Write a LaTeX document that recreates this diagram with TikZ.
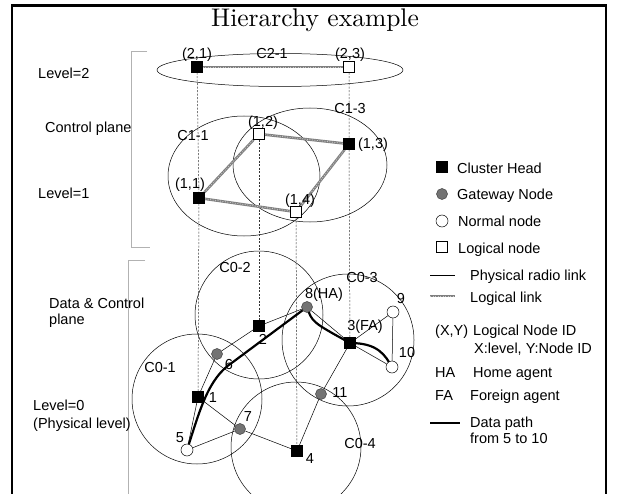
\documentclass[tikz,border=0pt]{standalone}
\usepackage{fontspec}
\setsansfont{Liberation Sans}
\usetikzlibrary{backgrounds}
\begin{document}
\begin{tikzpicture}[x=1pt,y=-1pt,
  lbl/.style={font=\sffamily\fontsize{14.5}{15}\selectfont, inner sep=0pt,
              text height=10.4pt, text depth=0pt},
  lblw/.style={lbl, anchor=west},
  chead/.style={rectangle, draw=black, fill=black, minimum size=11pt, inner sep=0pt},
  lnode/.style={rectangle, draw=black, fill=white, line width=0.5pt, minimum size=11pt, inner sep=0pt},
  gwnode/.style={circle, draw=black!75, line width=0.5pt, fill=black!55, minimum size=11pt, inner sep=0pt},
  nnode/.style={circle, draw=black, fill=white, line width=0.5pt, minimum size=12pt, inner sep=0pt},
  phys/.style={draw=black, line width=0.5pt},
  logic/.style={draw=black!50, line width=2.6pt,
                postaction={draw=black!22, line width=0.8pt, dash pattern=on 1pt off 1.5pt}},
  vlink/.style={draw=black!80, line width=0.5pt, dash pattern=on 2pt off 1.5pt},
  datapath/.style={draw=black, line width=2.2pt, line cap=round},
  cluster/.style={draw=black, line width=0.5pt},
  bracket/.style={draw=gray!60, line width=1pt},
  frame/.style={draw=black, line width=2.5pt}
]
\useasboundingbox (0,0) rectangle (620,494);
\clip (0,0) rectangle (620,494);
\begin{pgfonlayer}{background}
  \fill[white] (0,0) rectangle (620,494);
\end{pgfonlayer}

% frame (open at the bottom)
\coordinate (fbl) at (12,494);
\coordinate (ftl) at (12,5.5);
\coordinate (ftr) at (606,5.5);
\coordinate (fbr) at (606,494);
\draw[frame] (fbl) -- (ftl) -- (ftr) -- (fbr);

% title
\node[font=\fontsize{10}{12}\selectfont, inner sep=0pt, anchor=base, scale=2.55, transform shape] (title) at (315,27) {Hierarchy example};

% side brackets
\coordinate (ba1) at (147,52);
\coordinate (ba2) at (131,52);
\coordinate (ba3) at (131,247);
\coordinate (ba4) at (150,247);
\draw[bracket] (ba1) -- (ba2) -- (ba3) -- (ba4);
\coordinate (bb1) at (145,260);
\coordinate (bb2) at (128,260);
\coordinate (bb3) at (128,494);
\draw[bracket] (bb1) -- (bb2) -- (bb3);

% side texts
\node[lblw] (tl2) at (38,73) {Level=2};
\node[lblw] (tcp) at (45,127) {Control plane};
\node[lblw] (tl1) at (38,193) {Level=1};
\node[lblw] (tdc) at (49,303) {Data \& Control};
\node[lblw] (tdp) at (49,319) {plane};
\node[lblw] (tl0) at (33,405) {Level=0};
\node[lblw] (tpl) at (33,423) {(Physical level)};

% level 2 nodes
\node[chead] (l21) at (197,67) {};
\node[lnode] (l23) at (349,67) {};
% level 1 nodes
\node[chead] (l11) at (199,198) {};
\node[lnode] (l12) at (259,134) {};
\node[chead] (l13) at (349,144) {};
\node[lnode] (l14) at (296,212) {};
% level 0 nodes
\node[chead] (n1) at (198,397) {};
\node[chead] (n2) at (259,326) {};
\node[chead] (n3) at (350,343) {};
\node[chead] (n4) at (297,451) {};
\node[nnode] (n5) at (187,450) {};
\node[gwnode] (n6) at (217,354) {};
\node[gwnode] (n7) at (240,429) {};
\node[gwnode] (n8) at (307,307) {};
\node[nnode] (n9) at (393,312) {};
\node[nnode] (n10) at (392,367) {};
\node[gwnode] (n11) at (321,394) {};

\begin{pgfonlayer}{background}
  % clusters
  \draw[cluster] (280,70) ellipse [x radius=123pt, y radius=16.5pt];
  \draw[cluster] (244,176) ellipse [x radius=76pt, y radius=60pt];
  \draw[cluster] (310,165) ellipse [x radius=77pt, y radius=57pt];
  \draw[cluster] (197,399) circle [radius=65pt];
  \draw[cluster] (259,315) circle [radius=64pt];
  \draw[cluster] (348,340) circle [radius=66pt];
  \draw[cluster] (296,447) circle [radius=65pt];
  % projections between levels
  \draw[vlink] (l21) -- (l11) -- (n1);
  \draw[vlink] (l23) -- (l13) -- (n3);
  \draw[vlink] (l12) -- (n2);
  \draw[vlink] (l14) -- (n4);
  % logical links
  \draw[logic] (l21) -- (l23);
  \draw[logic] (l11) -- (l12);
  \draw[logic] (l12) -- (l13);
  \draw[logic] (l13) -- (l14);
  \draw[logic] (l14) -- (l11);
  % physical radio links
  \draw[phys] (n5) -- (n1);
  \draw[phys] (n5) -- (n7);
  \draw[phys] (n1) -- (n7);
  \draw[phys] (n7) -- (n4);
  \draw[phys] (n1) -- (n6);
  \draw[phys] (n6) -- (n2);
  \draw[phys] (n2) -- (n8);
  \draw[phys] (n8) -- (n3);
  \draw[phys] (n3) -- (n9);
  \draw[phys] (n9) -- (n10);
  \draw[phys] (n3) -- (n10);
  \draw[phys] (n3) -- (n11);
  \draw[phys] (n11) -- (n4);
  % data path from 5 to 10
  \draw[datapath] (n5.center) .. controls (200,410) and (208,378) .. (233,362)
     -- (n8.center) .. controls (312,322) .. (n3.center)
     .. controls (378,343) and (385,355) .. (n10.center);
\end{pgfonlayer}

% node labels
\node[lbl] (t21) at (197,53) {(2,1)};
\node[lbl] (tc21) at (272,53) {C2-1};
\node[lbl] (t23) at (350,53) {(2,3)};
\node[lbl] (t11) at (190,183) {(1,1)};
\node[lbl] (t12) at (263,121) {(1,2)};
\node[lbl] (t13) at (373,143) {(1,3)};
\node[lbl] (t14) at (300,199) {(1,4)};
\node[lbl] (tc11) at (193,135) {C1-1};
\node[lbl] (tc13) at (350,108) {C1-3};
\node[lbl] (t1) at (213,397) {1};
\node[lbl] (t2) at (263,339) {2};
\node[lbl] (t3) at (365,325) {3(FA)};
\node[lbl] (t4) at (310,458) {4};
\node[lbl] (t5) at (180,437) {5};
\node[lbl] (t6) at (229,364) {6};
\node[lbl] (t7) at (248,416) {7};
\node[lbl] (t8) at (324,293) {8(HA)};
\node[lbl] (t9) at (401,298) {9};
\node[lbl] (t10) at (407,352) {10};
\node[lbl] (t11b) at (340,392) {11};
\node[lbl] (tc01) at (160,367) {C0-1};
\node[lbl] (tc02) at (235,267) {C0-2};
\node[lbl] (tc03) at (362,277) {C0-3};
\node[lbl] (tc04) at (360,443) {C0-4};

% legend
\node[chead] (kch) at (442,167) {};
\node[lblw] (kcht) at (457,168) {Cluster Head};
\node[gwnode] (kgw) at (442,194) {};
\node[lblw] (kgwt) at (457,194) {Gateway Node};
\node[nnode] (knn) at (442,221) {};
\node[lblw] (knnt) at (458,221) {Normal node};
\node[lnode] (kln) at (442,247) {};
\node[lblw] (klnt) at (458,248) {Logical node};
\coordinate (kpa) at (430,275);
\coordinate (kpb) at (455,275);
\draw[phys] (kpa) -- (kpb);
\node[lblw] (kpt) at (470,275) {Physical radio link};
\coordinate (kla) at (430,296);
\coordinate (klb) at (455,296);
\draw[logic] (kla) -- (klb);
\node[lblw] (klt) at (470,297) {Logical link};
\node[lblw] (kxy) at (435,330) {(X,Y)};
\node[lblw] (kxyt) at (473,330) {Logical Node ID};
\node[lblw] (kxyu) at (474,348) {X:level, Y:Node ID};
\node[lblw] (kha) at (435,372) {HA};
\node[lblw] (khat) at (473,372) {Home agent};
\node[lblw] (kfa) at (435,395) {FA};
\node[lblw] (kfat) at (470,395) {Foreign agent};
\coordinate (kda) at (430,423);
\coordinate (kdb) at (460,423);
\draw[datapath, line cap=butt] (kda) -- (kdb);
\node[lblw] (kdt) at (470,422) {Data path};
\node[lblw] (kdu) at (470,438) {from 5 to 10};
\end{tikzpicture}
\end{document}
